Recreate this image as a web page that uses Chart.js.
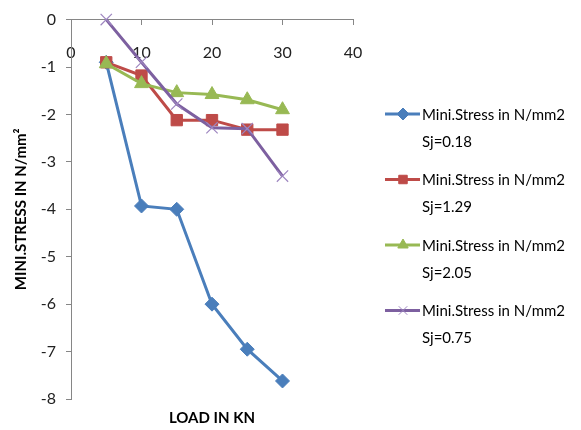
<!DOCTYPE html>
<html>
<head>
<meta charset="utf-8">
<script src="https://cdn.jsdelivr.net/npm/chart.js@4"></script>
<style>
  html, body { margin: 0; padding: 0; background: #fff; }
  #wrap { width: 581px; height: 430px; position: relative; }
</style>
</head>
<body>
<div id="wrap"><canvas id="chart" width="581" height="430"></canvas></div>
<script>
// load values (KN) shared by all series
const loads = [5, 10, 15, 20, 25, 30];

// minimum stress in N/mm2 for each Sj value
const stressSj018 = [-0.9, -3.93, -4.0, -6.0, -6.95, -7.62];
const stressSj129 = [-0.9, -1.18, -2.12, -2.12, -2.32, -2.32];
const stressSj205 = [-0.93, -1.35, -1.54, -1.58, -1.69, -1.9];
const stressSj075 = [0, -0.9, -1.78, -2.28, -2.3, -3.3];

const seriesNames = [
    ["Mini.Stress in N/mm2", "Sj=0.18"],
    ["Mini.Stress in N/mm2", "Sj=1.29"],
    ["Mini.Stress in N/mm2", "Sj=2.05"],
    ["Mini.Stress in N/mm2", "Sj=0.75"]
];

const xTicks = [0, 10, 20, 30, 40];
const yTicks = [0, -1, -2, -3, -4, -5, -6, -7, -8];

const FONT = "Lato, 'Liberation Sans', sans-serif";

function toPoints(values) {
    return loads.map((x, i) => ({ x: x, y: values[i] }));
}

const datasets = [
    { values: stressSj018, color: "#4A7EBB", style: "rectRot", radius: 7, border: 1, order: 4 },
    { values: stressSj129, color: "#BE4B48", style: "rect", radius: 8, border: 1, order: 3 },
    { values: stressSj205, color: "#98B954", style: "triangle", radius: 8, border: 1, order: 2 },
    { values: stressSj075, color: "#7D60A0", style: "crossRot", radius: 8, border: 1.2, order: 1 }
].map((s, i) => ({
    label: seriesNames[i].join(" "),
    data: toPoints(s.values),
    borderColor: s.color,
    backgroundColor: s.color,
    borderWidth: 3,
    pointStyle: s.style,
    pointRadius: s.radius,
    pointBorderWidth: s.border,
    pointBackgroundColor: s.color,
    pointBorderColor: s.style === "crossRot" ? "#9E86C0" : s.color,
    tension: 0,
    clip: false,
    order: s.order
}));

// x title and the legend on the right
const extras = {
    id: "extras",
    afterDraw(chart) {
        const ctx = chart.ctx;
        const area = chart.chartArea;
        ctx.save();
        ctx.fillStyle = "#000";
        ctx.font = "bold 15px " + FONT;
        ctx.textAlign = "center";
        ctx.textBaseline = "middle";
        ctx.fillText("LOAD IN KN", (area.left + area.right) / 2, 418);

        ctx.font = "15px " + FONT;
        ctx.textAlign = "left";
        chart.data.datasets.forEach((ds, i) => {
            const y = 114 + i * 65.5;
            ctx.strokeStyle = ds.borderColor;
            ctx.lineWidth = 3;
            ctx.beginPath();
            ctx.moveTo(385, y);
            ctx.lineTo(420, y);
            ctx.stroke();
            ctx.fillStyle = ds.backgroundColor;
            ctx.strokeStyle = ds.pointBorderColor;
            ctx.lineWidth = 1;
            Chart.helpers.drawPoint(ctx, {
                pointStyle: ds.pointStyle,
                radius: ds.pointStyle === "rect" ? 6 : 6,
                rotation: 0,
                borderWidth: 1
            }, 403, y);
            ctx.fillStyle = "#000";
            ctx.fillText(seriesNames[i][0], 422, y + 1);
            ctx.fillText(seriesNames[i][1], 422, y + 28);
        });
        ctx.restore();
    }
};

new Chart(document.getElementById("chart"), {
    type: "line",
    data: { datasets: datasets },
    options: {
        responsive: false,
        animation: false,
        layout: { padding: { top: 17, bottom: 31, left: 0, right: 228 } },
        plugins: { legend: { display: false }, tooltip: { enabled: false } },
        scales: {
            x: {
                type: "linear",
                position: { y: 0 },
                min: 0,
                max: 40,
                afterBuildTicks: (s) => { s.ticks = xTicks.map(v => ({ value: v })); },
                grid: { drawOnChartArea: false, drawTicks: true, tickLength: 5, color: "#868686" },
                border: { color: "#868686", width: 1 },
                ticks: { color: "#222", padding: 19, font: { family: FONT, size: 16 } }
            },
            y: {
                type: "linear",
                min: -8,
                max: 0,
                afterBuildTicks: (s) => { s.ticks = yTicks.map(v => ({ value: v })); },
                afterFit: (s) => { s.width = 71; },
                grid: { drawOnChartArea: false, drawTicks: true, tickLength: 5, color: "#868686" },
                border: { color: "#868686", width: 1 },
                ticks: { color: "#222", padding: 10, font: { family: FONT, size: 16 } },
                title: {
                    display: true,
                    text: "MINI.STRESS IN N/mm\u00B2",
                    color: "#000",
                    font: { family: FONT, size: 15, weight: "bold" },
                    padding: { top: 12, bottom: 0 }
                }
            }
        }
    },
    plugins: [extras]
});
</script>
</body>
</html>
